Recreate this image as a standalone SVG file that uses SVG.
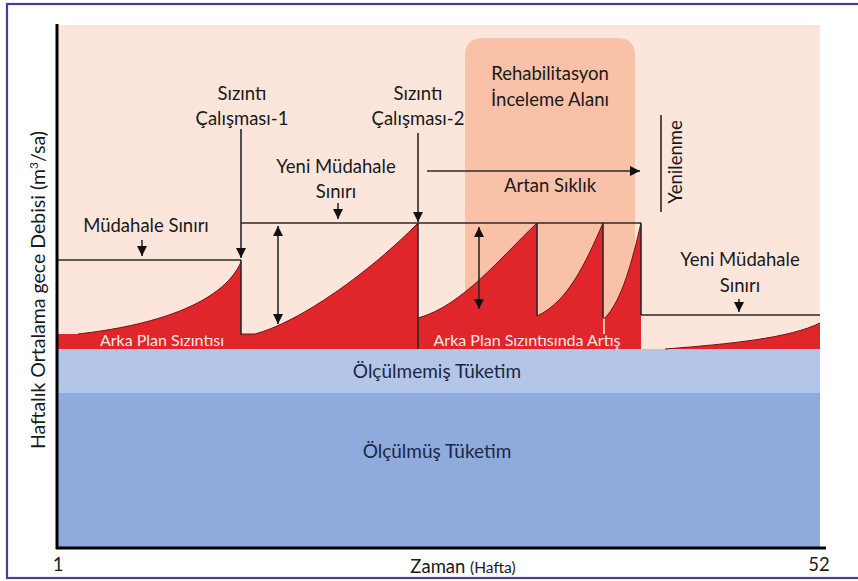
<svg xmlns="http://www.w3.org/2000/svg" width="858" height="581" viewBox="0 0 858 581">
<defs>
<style>
.lbl{font-family:Lato,"Open Sans","Liberation Sans",sans-serif;font-size:18.5px;fill:#1a1a1a;text-anchor:middle}
.wht{font-family:Lato,"Open Sans","Liberation Sans",sans-serif;font-size:16px;fill:#fde8e8;text-anchor:middle}
.blu{font-family:Lato,"Open Sans","Liberation Sans",sans-serif;font-size:19px;fill:#1c2746;text-anchor:middle}
.ln{stroke:#2a2a2a;stroke-width:1.6;fill:none}
.fillr{fill:#e0262a}
.edge{fill:none;stroke:#6e1414;stroke-width:1}
</style>
<marker id="ah" viewBox="0 0 10 10" refX="10" refY="5" markerWidth="10" markerHeight="10" markerUnits="userSpaceOnUse" orient="auto-start-reverse">
<path d="M0,0 L10,5 L0,10 Z" fill="#111"/>
</marker>
</defs>
<rect x="0" y="0" width="858" height="581" fill="#ffffff"/>
<rect x="7" y="4" width="870" height="574" fill="none" stroke="#4b3c9a" stroke-width="2.2"/>

<g id="background">
<rect x="57" y="25" width="763" height="325" fill="#fce6dc"/>
<rect x="57" y="349" width="763" height="44" fill="#b4c6e7"/>
<rect x="57" y="393" width="763" height="155" fill="#8faadc"/>
</g>

<g id="rehab-area">
<path d="M465,349 L465,56 Q465,38 483,38 L617,38 Q635,38 635,56 L635,349 Z" fill="#f8c1a8"/>
<text class="lbl" x="550" y="80">Rehabilitasyon</text>
<text class="lbl" x="550" y="106">İnceleme Alanı</text>
</g>

<g id="leakage">
<rect class="fillr" x="57" y="334" width="584" height="15"/>
<path class="fillr" d="M78,334 C150,326 222,305 241,262 L241,349 L78,349 Z"/>
<path class="fillr" d="M255,334 C300,322 370,272 418,223 L418,349 L255,349 Z"/>
<path class="fillr" d="M418,318 C462,306 500,258 537,223 L537,349 L418,349 Z"/>
<path class="fillr" d="M537,316 C568,302 586,262 603,223 L603,349 L537,349 Z"/>
<path class="fillr" d="M605,318 C622,300 632,262 641,223 L641,349 L605,349 Z"/>
<path class="fillr" d="M665,349 C730,344 790,338 820,323 L820,349 Z"/>
<path class="edge" d="M78,334 C150,326 222,305 241,262"/>
<path class="edge" d="M241,334 L255,334 C300,322 370,272 418,223"/>
<path class="edge" d="M418,318 C462,306 500,258 537,223"/>
<path class="edge" d="M537,316 C568,302 586,262 603,223"/>
<path class="edge" d="M603,318 L605,318 C622,300 632,262 641,223"/>
<path class="edge" d="M665,349 C730,344 790,338 820,323"/>
<text class="wht" x="162" y="346">Arka Plan Sızıntısı</text>
<text class="wht" x="527" y="346">Arka Plan Sızıntısında Artış</text>
</g>

<g id="consumption">
<text class="blu" x="437" y="378">Ölçülmemiş Tüketim</text>
<text class="blu" x="437" y="458">Ölçülmüş Tüketim</text>
</g>

<g id="connectors">
<line class="ln" x1="57" y1="260" x2="241" y2="260"/>
<line class="ln" x1="241" y1="223" x2="641" y2="223"/>
<line class="ln" x1="641" y1="315" x2="820" y2="315"/>
<line class="ln" x1="241" y1="260" x2="241" y2="335"/>
<line class="ln" x1="418" y1="223" x2="418" y2="349"/>
<line class="ln" x1="537" y1="223" x2="537" y2="316"/>
<line class="ln" x1="603" y1="223" x2="603" y2="318"/>
<line class="ln" x1="641" y1="223" x2="641" y2="315"/>
<line class="ln" x1="241" y1="129" x2="241" y2="258" marker-end="url(#ah)"/>
<line class="ln" x1="418" y1="133" x2="418" y2="222" marker-end="url(#ah)"/>
<line class="ln" x1="142" y1="240" x2="142" y2="256" marker-end="url(#ah)"/>
<line class="ln" x1="338" y1="203" x2="338" y2="219" marker-end="url(#ah)"/>
<line class="ln" x1="739" y1="299" x2="739" y2="312" marker-end="url(#ah)"/>
<line class="ln" x1="278" y1="226" x2="278" y2="324" marker-start="url(#ah)" marker-end="url(#ah)"/>
<line class="ln" x1="479" y1="227" x2="479" y2="309" marker-start="url(#ah)" marker-end="url(#ah)"/>
<line class="ln" x1="427" y1="171" x2="640" y2="171" marker-end="url(#ah)"/>
<line class="ln" x1="661" y1="115" x2="661" y2="212"/>
</g>

<g id="labels">
<text class="lbl" x="146" y="232">Müdahale Sınırı</text>
<text class="lbl" x="242" y="100">Sızıntı</text>
<text class="lbl" x="242" y="125">Çalışması-1</text>
<text class="lbl" x="418" y="100">Sızıntı</text>
<text class="lbl" x="418" y="125">Çalışması-2</text>
<text class="lbl" x="336" y="173">Yeni Müdahale</text>
<text class="lbl" x="336" y="198">Sınırı</text>
<text class="lbl" x="550" y="192">Artan Sıklık</text>
<text class="lbl" transform="translate(682,162) rotate(-90)">Yenilenme</text>
<text class="lbl" x="740" y="266">Yeni Müdahale</text>
<text class="lbl" x="740" y="292">Sınırı</text>
</g>

<g id="axes">
<line x1="57" y1="24" x2="57" y2="549" stroke="#000" stroke-width="3"/>
<line x1="56" y1="548" x2="826" y2="548" stroke="#000" stroke-width="3"/>
<text class="lbl" style="font-size:19.5px" transform="translate(45,290) rotate(-90)">Haftalık Ortalama gece Debisi (m<tspan font-size="12" dy="-7">3</tspan><tspan dy="7">/sa)</tspan></text>
<text class="lbl" x="58" y="571">1</text>
<text class="lbl" x="819" y="571">52</text>
<text class="lbl" x="463" y="573">Zaman <tspan font-size="15.5">(Hafta)</tspan></text>
</g>
</svg>
